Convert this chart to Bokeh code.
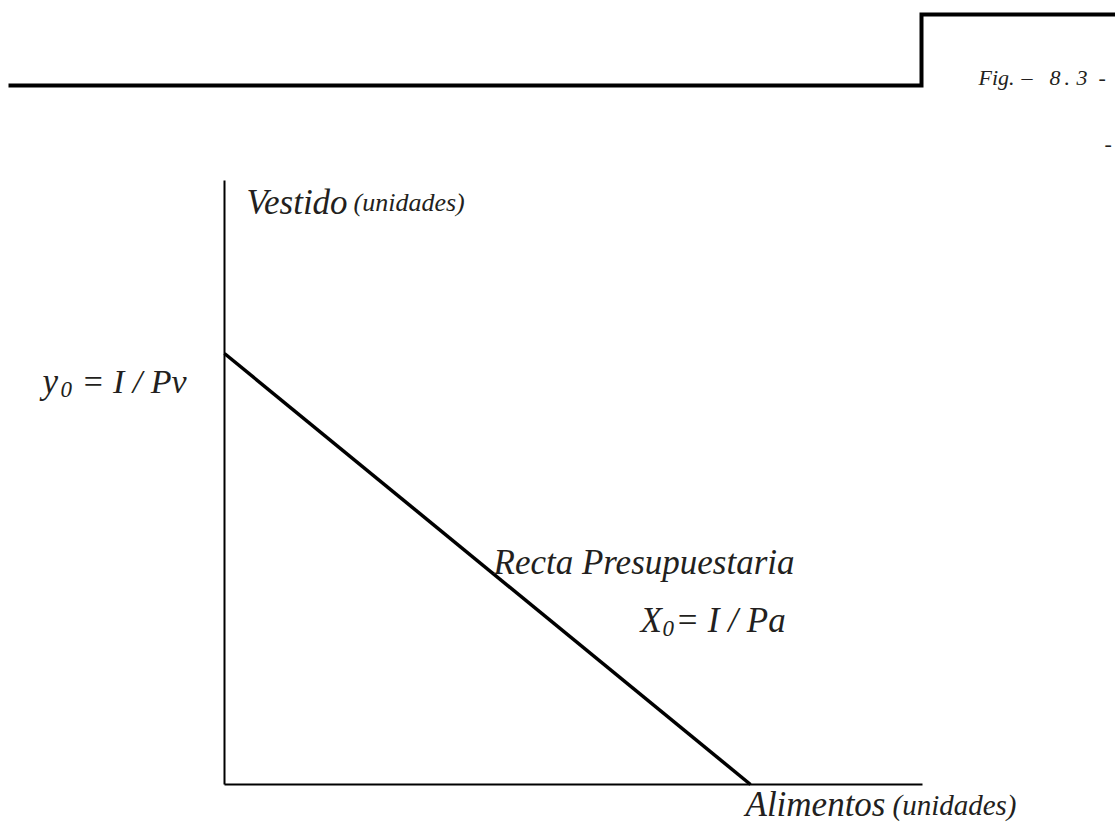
from bokeh.plotting import figure
from bokeh.models import Range1d
from bokeh.embed import file_html
from bokeh.resources import INLINE
from bokeh.core.properties import value

# ---- data (diagram units, 1 unit = 100 px) ----
budget_intercept_x = 5.26   # X0 = I / Pa  (Alimentos)
budget_intercept_y = 4.31   # y0 = I / Pv  (Vestido)
axis_x_max = 6.98
axis_y_max = 6.04
header_x = [-2.16, 6.97, 6.97, 8.91]
header_y = [6.99, 6.99, 7.70, 7.70]

label_y_axis = "Vestido"
label_x_axis = "Alimentos"
label_units = "(unidades)"
label_line = "Recta Presupuestaria"
fig_parts = ["Fig.", "\u2013", "8", ".", "3", "-"]

W, H = 1115, 824
SCALE = 100.0
OX, OY = 224, 40  # origin position inside the canvas (from left, from bottom)

p = figure(width=W, height=H,
           x_range=Range1d(-OX / SCALE, (W - OX) / SCALE),
           y_range=Range1d(-OY / SCALE, (H - OY) / SCALE),
           output_backend="svg", toolbar_location=None,
           x_axis_location=None, y_axis_location=None,
           min_border=0)
p.grid.visible = False
p.outline_line_color = None
p.background_fill_color = "white"
p.border_fill_color = "white"


def X(px):
    return (px - OX) / SCALE


def Y(py):
    return (H - OY - py) / SCALE


FONT = value("Liberation Serif")
TXT = "#231f20"


def txt(x, y, s, size, align="left"):
    p.text(x=[X(x)], y=[Y(y)], text=[s], text_font=FONT,
           text_font_style="italic", text_font_size=f"{size}px",
           text_baseline="alphabetic", text_align=align, text_color=TXT)


# header rule with step
p.line(header_x, header_y, line_color="black", line_width=4, line_join="miter")

# axes
p.line([0, 0], [0, axis_y_max], line_color="black", line_width=2)
p.line([0, axis_x_max], [0, 0], line_color="black", line_width=2)

# budget line
p.line([0, budget_intercept_x], [budget_intercept_y, 0], line_color="black", line_width=3.5)

# figure number (spaced pieces)
for part, xl in zip(fig_parts, [978, 1021, 1049, 1064, 1076, 1098]):
    txt(xl, 77, part, 22)
txt(1104, 143, "-", 22)

txt(246, 202, label_y_axis, 35)
txt(353, 202, label_units, 26)

txt(42, 381, "y", 35)
txt(60, 389, "0", 23)
txt(81, 381, "= I / Pv", 34)

txt(493, 562, label_line, 35)

txt(640, 620, "X", 35)
txt(662, 628, "0", 23)
txt(675, 620, "= I / Pa", 35)

txt(745, 804, label_x_axis, 35)
txt(892, 804, label_units, 29)

open("out.html", "w").write(file_html(p, INLINE))
